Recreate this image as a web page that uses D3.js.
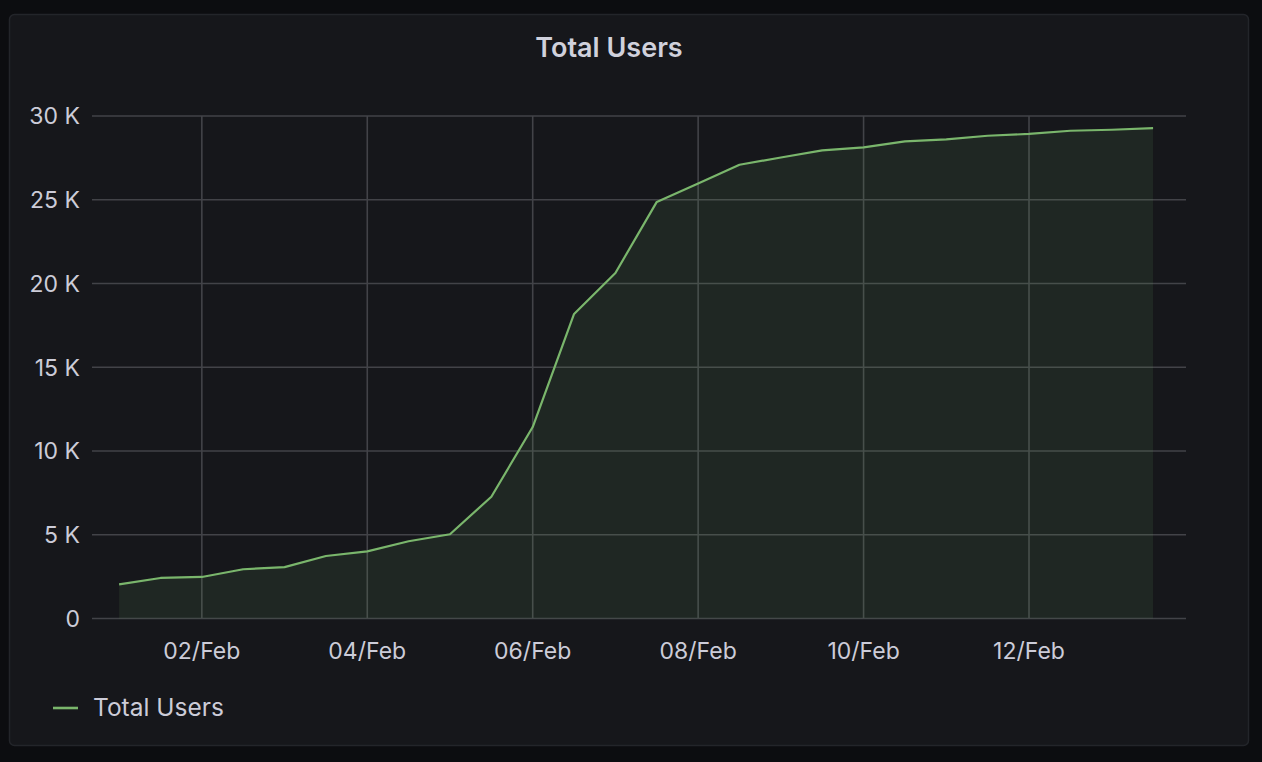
<!DOCTYPE html>
<html>
<head>
<meta charset="utf-8">
<script src="https://cdn.jsdelivr.net/npm/d3@7/dist/d3.min.js"></script>
<style>
  html, body { margin: 0; padding: 0; background: #0c0d10; }
  svg { display: block; }
  text { font-family: Inter, "Noto Sans", sans-serif; }
</style>
</head>
<body>
<svg id="chart" width="1262" height="762"></svg>
<script>
// ---- data ----
const title = "Total Users";
const seriesName = "Total Users";
const startTime = "2021-02-01T00:00:00";   // first sample
const stepHours = 12;                       // one sample every 12 hours
const totalUsers = [
  2040, 2420, 2480, 2940, 3070, 3730, 4010, 4610, 5030, 7270,
  11430, 18180, 20630, 24870, 25970, 27090, 27520, 27950, 28130, 28490,
  28610, 28820, 28930, 29120, 29180, 29280
];
const yTicks = [0, 5000, 10000, 15000, 20000, 25000, 30000];
const xTickDays = ["2021-02-02", "2021-02-04", "2021-02-06", "2021-02-08", "2021-02-10", "2021-02-12"];
const rangeStart = "2021-01-31T16:08:00";
const rangeEnd = "2021-02-13T21:33:00";

// ---- build ----
const parse = d3.isoParse;
const t0 = parse(startTime);
const points = totalUsers.map((v, i) => ({ t: new Date(t0.getTime() + i * stepHours * 3600e3), v }));

const svg = d3.select("#chart");
const W = 1262, H = 762;

svg.append("rect").attr("x", 0).attr("y", 0).attr("width", W).attr("height", H).attr("fill", "#0c0d10");
svg.append("rect")
  .attr("x", 9.5).attr("y", 14.5).attr("width", 1239).attr("height", 731)
  .attr("rx", 5).attr("fill", "#16171b").attr("stroke", "#23252a").attr("stroke-width", 1.5);

const pLeft = 92, pRight = 1186, pTop = 116, pBottom = 618.5;

const x = d3.scaleTime().domain([parse(rangeStart), parse(rangeEnd)]).range([pLeft, pRight]);
const y = d3.scaleLinear().domain([0, 30000]).range([pBottom, pTop]);

svg.append("text").attr("x", 609).attr("y", 57).attr("text-anchor", "middle")
  .attr("fill", "#d0d1dc").attr("font-size", 27).attr("font-weight", 600).text(title);

const g = svg.append("g");
g.selectAll("line.h").data(yTicks).join("line").attr("class", "h")
  .attr("x1", pLeft).attr("x2", pRight)
  .attr("y1", d => y(d)).attr("y2", d => y(d))
  .attr("stroke", "#424348").attr("stroke-width", 1.6);

const xTicks = xTickDays.map(d => parse(d + "T00:00:00"));
g.selectAll("line.v").data(xTicks).join("line").attr("class", "v")
  .attr("x1", d => x(d)).attr("x2", d => x(d))
  .attr("y1", pTop).attr("y2", pBottom)
  .attr("stroke", "#424348").attr("stroke-width", 1.6);

const fmtK = d => d === 0 ? "0" : (d / 1000) + " K";
svg.append("g").selectAll("text").data(yTicks).join("text")
  .attr("x", 80).attr("y", d => y(d)).attr("dy", "0.36em")
  .attr("text-anchor", "end").attr("fill", "#ccccd8").attr("font-size", 23)
  .text(fmtK);

const fmtX = d3.timeFormat("%d/%b");
svg.append("g").selectAll("text").data(xTicks).join("text")
  .attr("x", d => x(d)).attr("y", 659)
  .attr("text-anchor", "middle").attr("fill", "#ccccd8").attr("font-size", 23)
  .text(fmtX);

const area = d3.area().x(d => x(d.t)).y0(y(0)).y1(d => y(d.v));
const line = d3.line().x(d => x(d.t)).y(d => y(d.v));
svg.append("path").datum(points).attr("d", area)
  .attr("fill", "#73bf69").attr("fill-opacity", 0.1);
svg.append("path").datum(points).attr("d", line)
  .attr("fill", "none").attr("stroke", "#7ab66c").attr("stroke-width", 2.2)
  .attr("stroke-linejoin", "round");

svg.append("line").attr("x1", 53).attr("x2", 78).attr("y1", 708).attr("y2", 708)
  .attr("stroke", "#7ab66c").attr("stroke-width", 2.6);
svg.append("text").attr("x", 93).attr("y", 715.5).attr("fill", "#ccccd8")
  .attr("font-size", 24.5).text(seriesName);
</script>
</body>
</html>
